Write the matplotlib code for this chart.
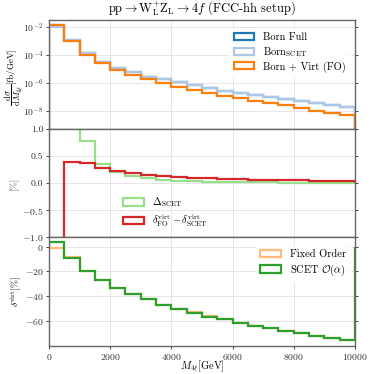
#!/usr/bin/env python3
import numpy as np
import matplotlib
matplotlib.use("Agg")
import matplotlib.pyplot as plt

# -----------------------------
# Data
# -----------------------------
edges = [0, 500, 1000, 1500, 2000, 2500, 3000, 3500, 4000, 4500, 5000,
         5500, 6000, 6500, 7000, 7500, 8000, 8500, 9000, 9500, 10000]

born_full = [1.52e-2, 1.23e-3, 1.35e-4, 3.4e-5, 1.32e-5, 6.2e-6, 2.95e-6, 1.9e-6,
             1.17e-6, 7.1e-7, 4.8e-7, 2.95e-7, 2.1e-7, 1.5e-7, 1.02e-7, 7.6e-8,
             5.5e-8, 3.9e-8, 2.95e-8, 2.1e-8]
born_scet = [1.12e-2, 1.23e-3, 1.35e-4, 3.4e-5, 1.32e-5, 6.2e-6, 2.95e-6, 1.9e-6,
             1.17e-6, 7.1e-7, 4.8e-7, 2.95e-7, 2.1e-7, 1.5e-7, 1.02e-7, 7.6e-8,
             5.5e-8, 3.9e-8, 2.95e-8, 2.1e-8]
born_virt = [1.5e-2, 1.1e-3, 1.07e-4, 2.6e-5, 9.5e-6, 3.9e-6, 2.0e-6, 1.05e-6,
             5.4e-7, 3.5e-7, 2.0e-7, 1.2e-7, 8.7e-8, 5.5e-8, 3.8e-8, 2.6e-8,
             1.74e-8, 1.12e-8, 7.9e-9, 5.1e-9]

delta_scet = [4.0, 1.6, 0.78, 0.35, 0.21, 0.13, 0.085, 0.06, 0.045, 0.035,
              0.028, 0.022, 0.018, 0.015, 0.012, 0.010, 0.008, 0.006, 0.005, 0.004]
delta_diff = [-4.6, 0.39, 0.37, 0.28, 0.22, 0.18, 0.15, 0.13, 0.11, 0.095,
              0.085, 0.075, 0.07, 0.065, 0.06, 0.055, 0.05, 0.045, 0.04, 0.035]

virt_fo = [-1.1, -8.7, -19.4, -27.0, -33.3, -38.4, -42.45, -46.8, -50.2, -53.2,
           -56.4, -58.8, -61.5, -63.9, -66.05, -68.25, -70.05, -71.95, -73.85, -75.47]
virt_scet = [3.5, -9.1, -19.8, -27.3, -33.5, -38.6, -42.6, -46.9, -50.3, -53.3,
             -56.5, -58.9, -61.6, -64.0, -66.1, -68.3, -70.1, -72.0, -73.9, -75.5]

# -----------------------------
# Style
# -----------------------------
plt.rcParams["font.family"] = "serif"
plt.rcParams["font.serif"] = ["cmr10"]
plt.rcParams["mathtext.fontset"] = "cm"
plt.rcParams["axes.formatter.use_mathtext"] = True
plt.rcParams["font.size"] = 7


def step(ax, vals, color, label, lw=1.6):
    ax.hist(edges[:-1], bins=edges, weights=vals, histtype="step",
            color=color, label=label, linewidth=lw)


def style_axis(ax):
    ax.grid(True, color="#e6e6e6", linewidth=0.7)
    ax.set_axisbelow(True)
    for sp in ax.spines.values():
        sp.set_color("#666666")
        sp.set_linewidth(1.0)
    ax.tick_params(direction="out", length=2.5, width=0.7, pad=1.5,
                   colors="#444444", labelcolor="#333333", right=True, labelsize=7)
    ax.tick_params(which="minor", left=False, right=False)
    ax.set_xlim(0, 10000)
    ax.set_xticks([0, 2000, 4000, 6000, 8000, 10000])


fig = plt.figure(figsize=(3.74, 3.74), dpi=100)
gs = fig.add_gridspec(3, 1, hspace=0, left=0.131, right=0.949, top=0.946, bottom=0.075)
ax1 = fig.add_subplot(gs[0])
ax2 = fig.add_subplot(gs[1], sharex=ax1)
ax3 = fig.add_subplot(gs[2], sharex=ax1)

# top panel
ax1.set_yscale("log")
step(ax1, born_full, "#1f77b4", "Born Full")
step(ax1, born_scet, "#aec7e8", r"Born$_{\rm SCET}$")
step(ax1, born_virt, "#ff7f0e", "Born + Virt (FO)")
ax1.set_ylim(10 ** -9.25, 10 ** -1.5)
ax1.set_yticks([1e-2, 1e-4, 1e-6, 1e-8])
ax1.set_ylabel(r"$\dfrac{\mathrm{d}\sigma}{\mathrm{d}M_{4\ell}}$[fb/GeV]", fontsize=6.5)
ax1.yaxis.set_label_coords(-0.08, 0.47)
ax1.set_title(r"$\mathrm{pp}\rightarrow\mathrm{W}_\mathrm{L}^{+}\mathrm{Z}_\mathrm{L}\rightarrow 4f$ (FCC-hh setup)",
              fontsize=9)
ax1.legend(loc="upper right", fontsize=7.5, frameon=True, edgecolor="white",
           framealpha=0.9, fancybox=False, labelspacing=0.25,
           bbox_to_anchor=(1.0, 0.97))

# middle panel
step(ax2, delta_scet, "#98df8a", r"$\Delta_{\rm SCET}$")
step(ax2, delta_diff, "#d62728", r"$\delta^{\rm virt}_{\rm FO}-\delta^{\rm virt}_{\rm SCET}$")
ax2.set_ylim(-1, 1)
ax2.set_yticks([-1.0, -0.5, 0.0, 0.5, 1.0])
ax2.set_yticklabels(["$-1.0$", "$-0.5$", "0.0", "0.5", "1.0"])
ax2.set_ylabel("[%]", fontsize=7, color="#555555")
ax2.yaxis.set_label_coords(-0.10, 0.5)
ax2.legend(loc="lower center", bbox_to_anchor=(0.38, -0.01), fontsize=7.5,
           frameon=False, labelspacing=0.3)

# bottom panel
step(ax3, virt_fo, "#ffbb78", "Fixed Order")
step(ax3, virt_scet, "#2ca02c", r"SCET $\mathcal{O}(\alpha)$")
ax3.set_ylim(-80.3, 7.5)
ax3.set_yticks([0, -20, -40, -60])
ax3.set_ylabel(r"$\delta^{\rm virt}$[%]", fontsize=7)
ax3.yaxis.set_label_coords(-0.082, 0.5)
ax3.set_xlabel(r"$M_{4\ell}$[GeV]", fontsize=7.5)
ax3.xaxis.set_label_coords(0.5, -0.115)
ax3.legend(loc="upper right", fontsize=7.5, frameon=True, edgecolor="white",
           framealpha=0.9, fancybox=False, labelspacing=0.3,
           bbox_to_anchor=(1.0, 0.97))

for ax in (ax1, ax2, ax3):
    style_axis(ax)
ax1.tick_params(labelbottom=False)
ax2.tick_params(labelbottom=False)

fig.savefig("out.png", dpi=100)
